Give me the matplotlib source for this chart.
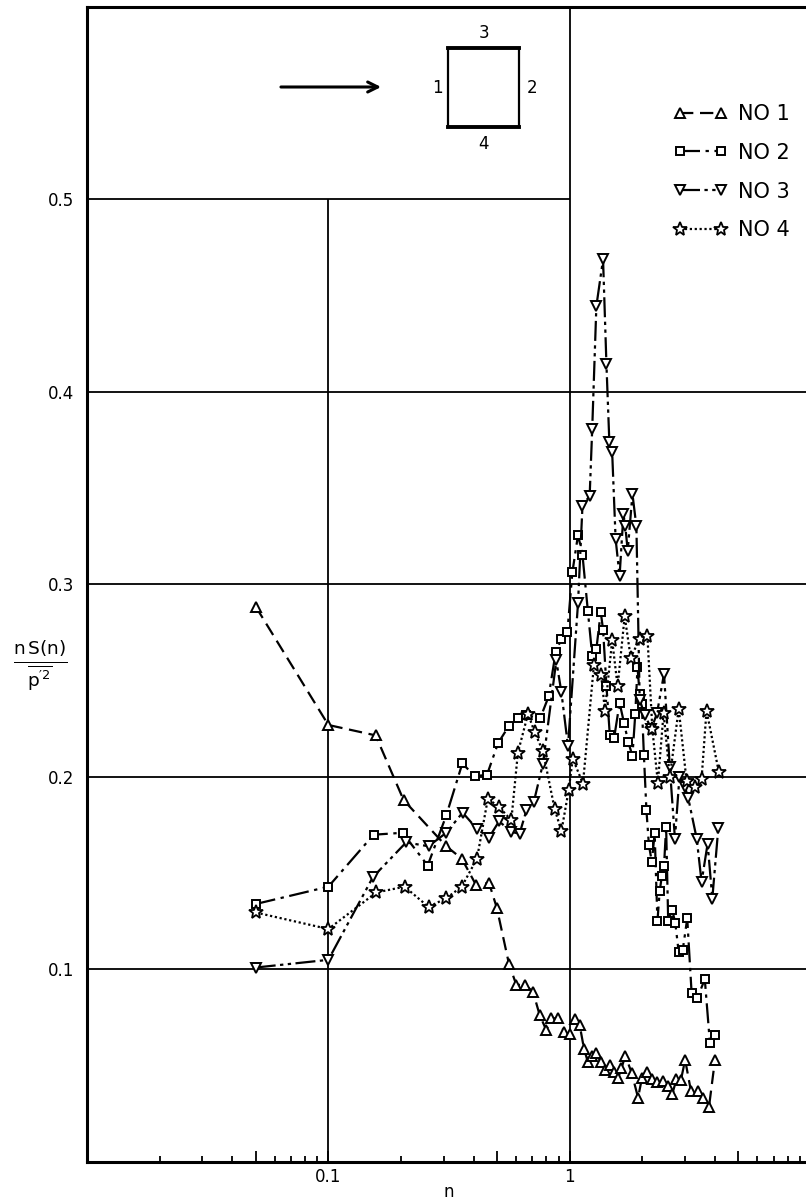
import numpy as np
import matplotlib.pyplot as plt
import matplotlib as mpl

mpl.rcParams.update({
    "font.family": ["Liberation Sans Narrow", "DejaVu Sans"],
    "mathtext.default": "regular",
    "font.size": 12,
})

# frequency n and normalised spectrum nS(n)/p'^2 for the four taps
n1 = [0.05, 0.1, 0.157, 0.205, 0.308, 0.357, 0.41, 0.463, 0.499, 0.56, 0.601,
      0.653, 0.705, 0.751, 0.80, 0.84, 0.894, 0.947, 1.0, 1.049, 1.1, 1.147,
      1.191, 1.237, 1.29, 1.345, 1.406, 1.466, 1.527, 1.587, 1.638, 1.701,
      1.81, 1.92, 1.995, 2.1, 2.195, 2.31, 2.44, 2.56, 2.66, 2.77, 2.89,
      3.01, 3.18, 3.41, 3.58, 3.78, 4.0]
s1 = [0.2885, 0.227, 0.2216, 0.188, 0.164, 0.1576, 0.1437, 0.145, 0.132, 0.103,
      0.092, 0.092, 0.0884, 0.0763, 0.0685, 0.0746, 0.0746, 0.0677, 0.0663,
      0.0742, 0.0711, 0.0587, 0.0517, 0.0552, 0.0568, 0.0517, 0.0478, 0.0504,
      0.0469, 0.0435, 0.0486, 0.0552, 0.046, 0.0334, 0.0438, 0.0466, 0.0431,
      0.0414, 0.042, 0.0397, 0.0352, 0.0429, 0.0426, 0.053, 0.0369, 0.0369,
      0.0331, 0.0288, 0.053]

n2 = [0.05, 0.1, 0.154, 0.203, 0.258, 0.308, 0.359, 0.404, 0.454, 0.505, 0.56,
      0.61, 0.66, 0.756, 0.818, 0.875, 0.924, 0.978, 1.026, 1.083, 1.13, 1.19,
      1.24, 1.29, 1.345, 1.375, 1.42, 1.466, 1.527, 1.61, 1.68, 1.75, 1.82,
      1.87, 1.91, 1.95, 1.99, 2.03, 2.08, 2.13, 2.19, 2.25, 2.31, 2.36, 2.41,
      2.46, 2.51, 2.56, 2.66, 2.74, 2.83, 2.94, 3.07, 3.2, 3.38, 3.63, 3.81,
      4.0]
s2 = [0.134, 0.143, 0.170, 0.171, 0.154, 0.180, 0.207, 0.2005, 0.201, 0.2176,
      0.2265, 0.2307, 0.232, 0.2307, 0.2418, 0.2648, 0.2717, 0.2752, 0.3063,
      0.3258, 0.3153, 0.286, 0.263, 0.2665, 0.2856, 0.2766, 0.2475, 0.222,
      0.220, 0.2385, 0.228, 0.218, 0.211, 0.2328, 0.257, 0.243, 0.238, 0.2115,
      0.1827, 0.1645, 0.1559, 0.1709, 0.125, 0.1406, 0.1486, 0.1538, 0.174,
      0.125, 0.131, 0.124, 0.109, 0.110, 0.1265, 0.088, 0.085, 0.095, 0.062,
      0.066]

n3 = [0.05, 0.1, 0.153, 0.21, 0.26, 0.308, 0.36, 0.413, 0.463, 0.51, 0.573,
      0.62, 0.662, 0.71, 0.775, 0.88, 0.924, 0.984, 1.083, 1.13, 1.21, 1.24,
      1.29, 1.375, 1.42, 1.46, 1.5, 1.55, 1.61, 1.67, 1.7, 1.74, 1.82, 1.89,
      1.95, 2.05, 2.18, 2.3, 2.46, 2.6, 2.73, 2.85, 3.0, 3.1, 3.36, 3.52, 3.73,
      3.9, 4.13]
s3 = [0.101, 0.105, 0.148, 0.166, 0.164, 0.171, 0.1815, 0.173, 0.1685, 0.177,
      0.1714, 0.1706, 0.1827, 0.187, 0.2069, 0.2605, 0.244, 0.216, 0.2904,
      0.341, 0.346, 0.381, 0.4446, 0.4689, 0.4144, 0.3741, 0.3686, 0.3236,
      0.3043, 0.3366, 0.3302, 0.3175, 0.347, 0.3302, 0.24, 0.232, 0.225, 0.233,
      0.2536, 0.205, 0.168, 0.2, 0.195, 0.189, 0.168, 0.1455, 0.1654, 0.1368,
      0.1735]

n4 = [0.05, 0.1, 0.158, 0.207, 0.26, 0.308, 0.357, 0.413, 0.458, 0.51, 0.573,
      0.61, 0.672, 0.716, 0.775, 0.866, 0.924, 0.99, 1.03, 1.135, 1.26, 1.35,
      1.4, 1.5, 1.58, 1.69, 1.79, 1.95, 2.1, 2.2, 2.32, 2.45, 2.6, 2.83, 3.05,
      3.3, 3.52, 3.69, 4.15]
s4 = [0.1296, 0.121, 0.140, 0.143, 0.1325, 0.137, 0.143, 0.1576, 0.1887, 0.1844,
      0.1775, 0.2126, 0.2328, 0.2233, 0.2133, 0.1835, 0.1718, 0.193, 0.2095,
      0.1965, 0.258, 0.253, 0.2345, 0.271, 0.247, 0.2835, 0.262, 0.2717,
      0.2731, 0.225, 0.197, 0.2333, 0.2, 0.2354, 0.198, 0.195, 0.199, 0.2345,
      0.2026]

labels = ["NO 1", "NO 2", "NO 3", "NO 4"]
yticks = [0.1, 0.2, 0.3, 0.4, 0.5]

fig = plt.figure(figsize=(8.06, 12), dpi=100)
ax = fig.add_axes([0.108, 0.0317, 0.8982, 0.9625])
ax.set_xscale("log")
ax.set_xlim(0.01, 10)
ax.set_ylim(0, 0.6)

# grid: 0.5 line and n=0.1 line stop short, leaving room for the sketch
for y in yticks[:-1]:
    ax.axhline(y, color="k", lw=1.3, zorder=1)
ax.hlines(0.5, 0.01, 1, color="k", lw=1.3, zorder=1)
ax.vlines(0.1, 0, 0.5, color="k", lw=1.3, zorder=1)
ax.axvline(1, color="k", lw=1.3, zorder=1)

mk = dict(mfc="white", mec="k", mew=1.4, ms=6.5, color="k", lw=1.6)
ax.plot(n1, s1, marker="^", dashes=(6, 3), label=labels[0], **mk)
ax.plot(n2, s2, marker="s", dashes=(9, 2.5, 1.5, 2.5), label=labels[1],
        **dict(mk, ms=5.5))
ax.plot(n3, s3, marker="v", dashes=(9, 2, 1.5, 2, 1.5, 2), label=labels[2], **mk)
ax.plot(n4, s4, marker="*", dashes=(1, 1.2), label=labels[3],
        **dict(mk, ms=10, mew=1.3))

for side in ["left", "bottom", "top", "right"]:
    ax.spines[side].set_linewidth(2.2)

ax.set_xticks([0.05, 0.1, 0.5, 1, 5])
ax.set_xticklabels(["", "0.1", "", "1", ""])
ax.set_xticks([k * d for d in (0.01, 0.1, 1) for k in (2, 3, 4, 6, 7, 8, 9)],
              minor=True)
ax.set_xticklabels([], minor=True)
ax.tick_params(axis="x", which="major", direction="in", length=8, width=1.3,
               pad=4, labelsize=12)
ax.tick_params(axis="x", which="minor", direction="in", length=4.5, width=1.3)
ax.set_yticks(yticks)
ax.set_yticklabels([f"{v:.1f}" for v in yticks])
ax.tick_params(axis="y", length=0, pad=9, labelsize=12)
ax.set_xlabel("n", fontsize=12)
ax.xaxis.set_label_coords(0.5, -0.0185)

fig.text(0.05, 1 - 665 / 1200, r"$\frac{n\,S(n)}{\overline{p^{\prime 2}}}$",
         ha="center", va="center", fontsize=19)

# sketch of the tapping points with flow direction
ax.annotate("", xy=(0.41, 0.9307), xytext=(0.264, 0.9307),
            xycoords="axes fraction",
            arrowprops=dict(arrowstyle="->", lw=2.2, mutation_scale=18))
x0, x1, y0, y1 = 0.4986, 0.5967, 0.896, 0.9645
ax.plot([x0, x0], [y0, y1], color="k", lw=1.6, transform=ax.transAxes)
ax.plot([x1, x1], [y0, y1], color="k", lw=1.6, transform=ax.transAxes)
ax.plot([x0, x1], [y1, y1], color="k", lw=2.8, transform=ax.transAxes)
ax.plot([x0, x1], [y0, y0], color="k", lw=2.8, transform=ax.transAxes)
xm, ym = (x0 + x1) / 2, (y0 + y1) / 2
for tx, ty, s in [(xm, 0.9775, "3"), (xm, 0.8815, "4"),
                  (0.4834, ym, "1"), (0.6146, ym, "2")]:
    ax.text(tx, ty, s, transform=ax.transAxes, ha="center", va="center",
            fontsize=12)

leg = ax.legend(loc="upper left", bbox_to_anchor=(0.7956, 0.925),
                frameon=False, numpoints=2, handlelength=2.6,
                handletextpad=0.5, labelspacing=0.9, borderpad=0,
                fontsize=15)

fig.savefig("out.png", dpi=100)
